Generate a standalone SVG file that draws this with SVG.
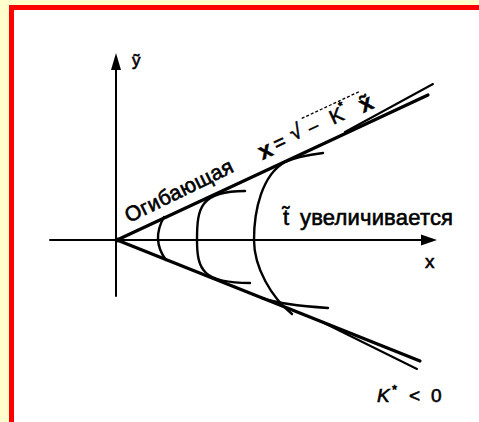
<svg xmlns="http://www.w3.org/2000/svg" width="479" height="422" viewBox="0 0 479 422">
  <defs>
    <style>
      .ln { fill: none; stroke: #000; stroke-linecap: round; stroke-linejoin: round; }
      .ax { stroke-width: 2; }
      .env { stroke-width: 3.2; }
      .thin { stroke-width: 2; }
      .crv { stroke-width: 2.4; }
      .t { font-family: "Liberation Sans", Arial, sans-serif; fill: #000; stroke: #000; stroke-width: 0.6; }
    </style>
  </defs>
  <rect x="0" y="0" width="479" height="422" fill="#FFFFCC"/>
  <rect x="11.5" y="7.5" width="480" height="430" fill="#FFFFFF" stroke="#FF0000" stroke-width="5"/>

  <g id="axes">
    <line class="ln ax" x1="116" y1="296" x2="116" y2="66"/>
    <polygon points="116,53 111,70 121,70" fill="#000"/>
    <line class="ln ax" x1="50" y1="240" x2="425" y2="240"/>
    <polygon points="437,240 421,234.5 421,245.5" fill="#000"/>
    <circle cx="117" cy="240" r="2.5" fill="#000"/>
  </g>

  <g id="connectors">
    <g id="envelope-upper">
      <line class="ln env" x1="117" y1="240" x2="428" y2="95"/>
      <line class="ln thin" x1="345" y1="132" x2="433" y2="84"/>
    </g>
    <g id="envelope-lower">
      <line class="ln env" x1="117" y1="240" x2="420" y2="361"/>
      <line class="ln thin" x1="320" y1="321" x2="417" y2="369"/>
    </g>
    <g id="curve-1">
      <path class="ln crv" d="M164,217 Q151,240 166,260"/>
    </g>
    <g id="curve-2">
      <path class="ln crv" d="M245,191 C200,191 197,208 197,240 C197,270 203,283 250,283"/>
    </g>
    <g id="curve-3">
      <path class="ln crv" d="M323,153 Q298,156 285,162 C262,175 254,210 254,240 C254,268 272,298 292,314"/>
      <path class="ln crv" d="M262,298 Q282,305 328,308"/>
    </g>
  </g>

  <g id="label-y">
    <text class="t" x="132" y="66" font-size="17">ỹ</text>
  </g>
  <g id="label-x">
    <text class="t" x="425" y="268" font-size="19">x</text>
  </g>
  <g id="label-envelope">
    <text class="t" x="0" y="0" font-size="21" textLength="118" lengthAdjust="spacing" transform="translate(129,223) rotate(-26)">Огибающая</text>
  </g>
  <g id="label-formula" transform="translate(258,162) rotate(-25)">
    <text class="t" x="5" y="0" font-size="23" font-weight="bold">x</text>
    <text class="t" x="22" y="-2" font-size="20">=</text>
    <text class="t" x="41" y="-4" font-size="21">√</text>
    <line x1="58" y1="-21" x2="122" y2="-21" stroke="#000" stroke-width="1.3" stroke-dasharray="3,2"/>
    <text class="t" x="60" y="-3" font-size="18">–</text>
    <text class="t" x="84" y="-2" font-size="20">K</text>
    <text class="t" x="97" y="-12" font-size="12">*</text>
    <text class="t" x="116" y="0" font-size="23" font-weight="bold">x̃</text>
  </g>
  <g id="label-t">
    <text class="t" x="283" y="225" font-size="22">t̃ <tspan x="300" textLength="153" lengthAdjust="spacing">увеличивается</tspan></text>
  </g>
  <g id="label-k">
    <text class="t" x="377" y="402" font-size="19" font-style="italic">K</text>
    <text class="t" x="392" y="394" font-size="13">*</text>
    <text class="t" x="409" y="402" font-size="19">&lt;</text>
    <text class="t" x="431" y="402" font-size="19">0</text>
  </g>
</svg>
